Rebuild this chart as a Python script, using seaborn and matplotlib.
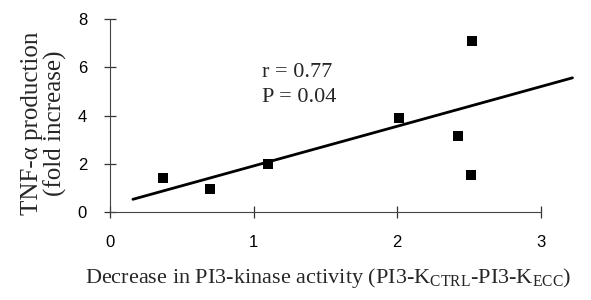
import numpy as np
import pandas as pd
import seaborn as sns
import matplotlib.pyplot as plt

sns.set_theme(style="ticks")
plt.rcParams["mathtext.fontset"] = "custom"
plt.rcParams["mathtext.rm"] = "Liberation Serif"
plt.rcParams["mathtext.it"] = "Liberation Serif:italic"

# data
pi3k_decrease = [0.37, 0.70, 1.10, 2.01, 2.42, 2.52, 2.51]
tnf_fold = [1.41, 0.95, 1.98, 3.90, 3.15, 7.08, 1.53]
# regression line as drawn in the original
fit_x = [0.16, 3.22]
fit_y = [0.53, 5.56]
x_ticks = [0, 1, 2, 3]
y_ticks = [0, 2, 4, 6, 8]

df = pd.DataFrame({"x": pi3k_decrease, "y": tnf_fold})
fit = pd.DataFrame({"x": fit_x, "y": fit_y})

fig = plt.figure(figsize=(5.91, 3.0), dpi=100)
ax = fig.add_axes([0.186, 0.293, 0.79, 0.644])

sns.lineplot(data=fit, x="x", y="y", color="black", linewidth=2.0, ax=ax)
sns.scatterplot(data=df, x="x", y="y", marker="s", color="black", s=55,
                edgecolor="black", linewidth=0, ax=ax)

ax.set_xlim(0, 3.25)
ax.set_ylim(0, 8)
ax.set_xticks(x_ticks)
ax.set_yticks(y_ticks)
ax.set_xticklabels([str(t) for t in x_ticks], family="Liberation Sans", fontsize=12)
ax.set_yticklabels([str(t) for t in y_ticks], family="Liberation Sans", fontsize=12)
ax.tick_params(axis="both", which="major", bottom=True, left=True, direction="inout",
               length=9, width=0.9, color="#333333", labelcolor="black")
ax.tick_params(axis="x", pad=12)
ax.tick_params(axis="y", pad=12)

for side in ["top", "right"]:
    ax.spines[side].set_visible(False)
ax.spines["left"].set_color("#444444")
ax.spines["bottom"].set_color("#444444")
ax.spines["left"].set_linewidth(0.8)
ax.spines["bottom"].set_linewidth(0.8)
ax.spines["bottom"].set_bounds(0, 3)

ax.set_xlabel(r"Decrease in PI3-kinase activity (PI3-K$_{\mathrm{CTRL}}$-PI3-K$_{\mathrm{ECC}}$)",
              family="Liberation Serif", fontsize=16)
ax.xaxis.set_label_coords(0.467, -0.28)
ax.set_ylabel("TNF-\u03b1 production\n(fold increase)", family="Liberation Serif",
              fontsize=18, linespacing=1.05)
ax.yaxis.set_label_coords(-0.092, 0.46)

ax.text(1.06, 5.8, "r = 0.77", family="Liberation Serif", fontsize=16, va="center")
ax.text(1.06, 4.73, "P = 0.04", family="Liberation Serif", fontsize=16, va="center")

fig.savefig("out.png", dpi=100)
